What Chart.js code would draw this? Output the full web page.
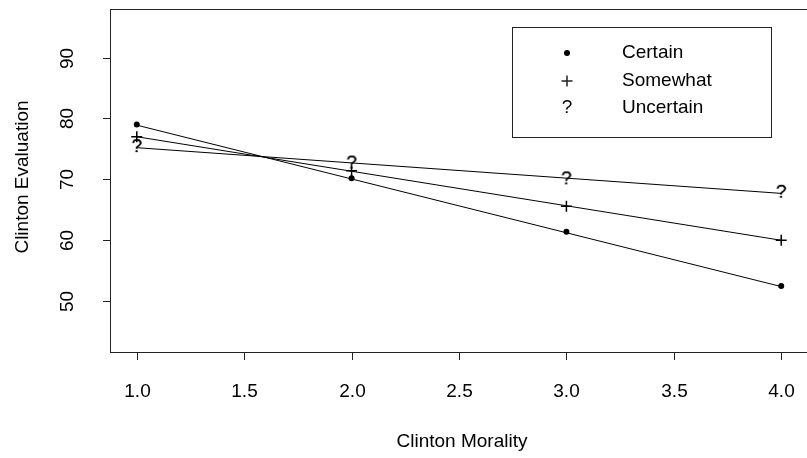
<!DOCTYPE html>
<html>
<head>
<meta charset="utf-8">
<script src="https://cdn.jsdelivr.net/npm/chart.js@4.4.1/dist/chart.umd.min.js"></script>
<style>
  html, body { margin: 0; padding: 0; background: #fff; }
  #wrap { width: 807px; height: 458px; position: relative; }
</style>
</head>
<body>
<div id="wrap"><canvas id="chart"></canvas></div>
<script>
// values
const morality = [1, 2, 3, 4];
const certainVals = [79.0, 70.2, 61.4, 52.5];
const somewhatVals = [77.0, 71.4, 65.6, 60.0];
const uncertainVals = [75.3, 72.6, 70.0, 67.8];

// fitted lines, value at x = 1 and x = 4
const fitX = [1, 4];
const certainFit = [78.9, 52.4];
const somewhatFit = [77.0, 60.0];
const uncertainFit = [75.2, 67.7];

const xTicks = [1.0, 1.5, 2.0, 2.5, 3.0, 3.5, 4.0];
const yTicks = [50, 60, 70, 80, 90];
const legendLabels = ['Certain', 'Somewhat', 'Uncertain'];

const FONT = "'Liberation Sans', Arial, Helvetica, sans-serif";
const INK = '#000';

const pts = (xs, ys) => xs.map((x, i) => ({ x: x, y: ys[i] }));

// '?' glyph used as point marker
function qMark() {
  const c = document.createElement('canvas');
  c.width = 14; c.height = 20;
  const g = c.getContext('2d');
  g.fillStyle = INK;
  g.font = '19px ' + FONT;
  g.textAlign = 'center';
  g.textBaseline = 'middle';
  g.fillText('?', 7, 10);
  g.fillText('?', 7, 10);
  return c;
}
const qImg = qMark();

const lineSet = (ys) => ({
  data: pts(fitX, ys),
  showLine: true,
  borderColor: INK,
  borderWidth: 1,
  pointRadius: 0,
  fill: false
});

// box, ticks, labels and legend, R style
const frame = {
  id: 'frame',
  afterDraw(chart) {
    const { ctx, chartArea: a, scales } = chart;
    const xs = scales.x, ys = scales.y;
    ctx.save();
    ctx.strokeStyle = '#222';
    ctx.lineWidth = 1;
    ctx.strokeRect(a.left - 0.5, a.top - 0.5, a.right - a.left + 1, a.bottom - a.top);

    ctx.fillStyle = INK;
    ctx.font = '19px ' + FONT;
    ctx.textAlign = 'center';
    ctx.textBaseline = 'middle';

    xTicks.forEach(t => {
      const px = Math.round(xs.getPixelForValue(t)) + 0.5;
      ctx.beginPath();
      ctx.moveTo(px, a.bottom - 0.5);
      ctx.lineTo(px, a.bottom + 7);
      ctx.stroke();
      ctx.fillText(t.toFixed(1), px, 392);
    });

    yTicks.forEach(t => {
      const py = Math.round(ys.getPixelForValue(t)) + 0.5;
      ctx.beginPath();
      ctx.moveTo(a.left - 0.5, py);
      ctx.lineTo(a.left - 8, py);
      ctx.stroke();
      ctx.save();
      ctx.translate(68, py);
      ctx.rotate(-Math.PI / 2);
      ctx.fillText(String(t), 0, 0);
      ctx.restore();
    });

    // axis titles
    ctx.fillText('Clinton Morality', 462, 442);
    ctx.save();
    ctx.translate(23, 177);
    ctx.rotate(-Math.PI / 2);
    ctx.fillText('Clinton Evaluation', 0, 0);
    ctx.restore();

    // legend
    ctx.strokeRect(512.5, 27.5, 259, 110);
    const rows = [53, 81, 108];
    ctx.textAlign = 'left';
    legendLabels.forEach((lab, i) => ctx.fillText(lab, 622, rows[i]));
    ctx.beginPath();
    ctx.arc(567, rows[0], 3, 0, Math.PI * 2);
    ctx.fill();
    ctx.lineWidth = 1.5;
    ctx.beginPath();
    ctx.moveTo(561.5, rows[1]); ctx.lineTo(572.5, rows[1]);
    ctx.moveTo(567, rows[1] - 5.5); ctx.lineTo(567, rows[1] + 5.5);
    ctx.stroke();
    ctx.textAlign = 'center';
    ctx.fillText('?', 567, rows[2]);
    ctx.restore();
  }
};

new Chart(document.getElementById('chart'), {
  type: 'scatter',
  data: {
    datasets: [
      lineSet(certainFit),
      lineSet(somewhatFit),
      lineSet(uncertainFit),
      {
        label: 'Certain',
        data: pts(morality, certainVals),
        pointStyle: 'circle',
        pointRadius: 3,
        pointBorderWidth: 0,
        backgroundColor: INK
      },
      {
        label: 'Somewhat',
        data: pts(morality, somewhatVals),
        pointStyle: 'cross',
        pointRadius: 5.5,
        pointBorderWidth: 1.5,
        borderColor: INK
      },
      {
        label: 'Uncertain',
        data: pts(morality, uncertainVals),
        pointStyle: qImg
      }
    ]
  },
  options: {
    responsive: true,
    maintainAspectRatio: false,
    animation: false,
    layout: { autoPadding: false, padding: { left: 111, top: 10, right: -1, bottom: 105 } },
    plugins: {
      legend: { display: false },
      tooltip: { enabled: false }
    },
    scales: {
      x: { type: 'linear', min: 0.88, max: 4.12, display: false },
      y: { type: 'linear', min: 41.5, max: 97.8, display: false }
    }
  },
  plugins: [frame]
});
</script>
</body>
</html>
